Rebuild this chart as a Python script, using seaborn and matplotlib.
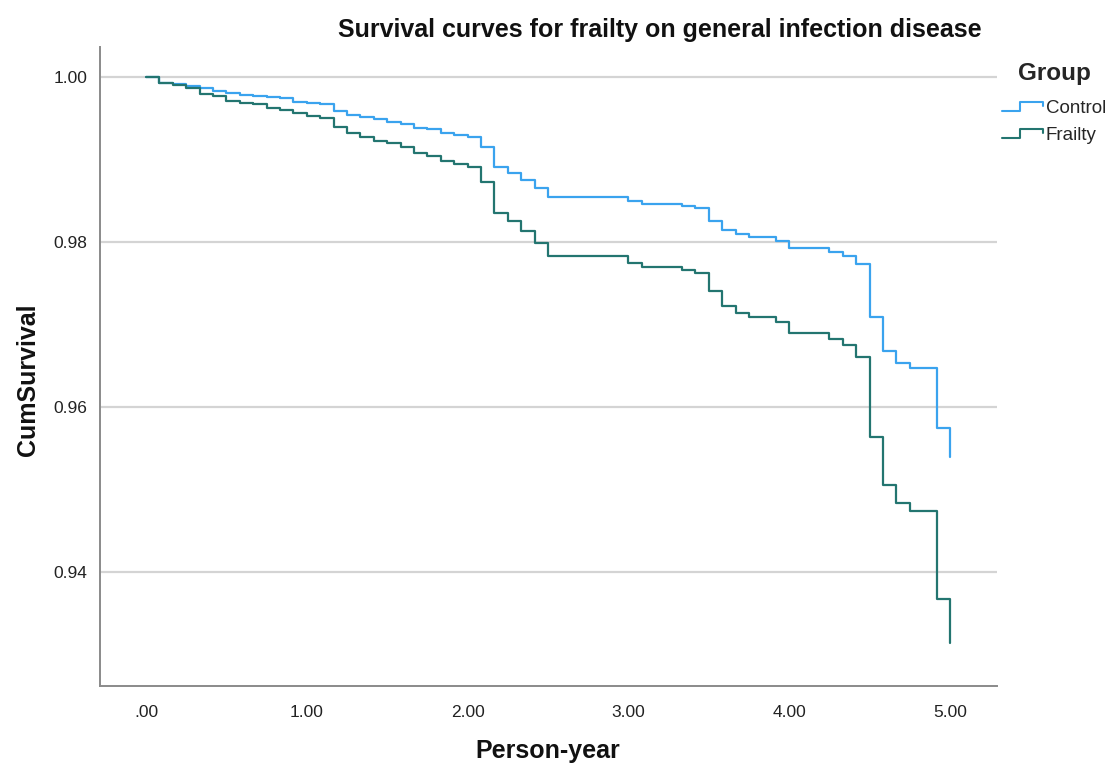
import numpy as np
import pandas as pd
import matplotlib
matplotlib.use("Agg")
import matplotlib.pyplot as plt
import seaborn as sns
from matplotlib.lines import Line2D
from matplotlib.legend_handler import HandlerBase

# ---- data ----
months = list(range(0, 61))  # follow-up month of each step

control_surv = [
    1.00000, 0.99935, 0.99919, 0.99894, 0.99867, 0.99837, 0.99806, 0.99785, 0.99773, 0.99757,
    0.99745, 0.99704, 0.99685, 0.99676, 0.99591, 0.99543, 0.99522, 0.99491, 0.99462, 0.99434,
    0.99381, 0.99369, 0.99328, 0.99300, 0.99280, 0.99149, 0.98912, 0.98843, 0.98754, 0.98654,
    0.98552, 0.98552, 0.98552, 0.98552, 0.98552, 0.98552, 0.98500, 0.98463, 0.98463, 0.98463,
    0.98439, 0.98411, 0.98261, 0.98148, 0.98096, 0.98067, 0.98067, 0.98018, 0.97926, 0.97926,
    0.97926, 0.97885, 0.97833, 0.97732, 0.97087, 0.96680, 0.96535, 0.96474, 0.96474, 0.95750,
    0.95391,
]

frailty_surv = [
    1.00000, 0.99927, 0.99907, 0.99867, 0.99797, 0.99773, 0.99716, 0.99692, 0.99676, 0.99624,
    0.99603, 0.99571, 0.99531, 0.99503, 0.99394, 0.99321, 0.99280, 0.99231, 0.99200, 0.99158,
    0.99078, 0.99045, 0.98988, 0.98948, 0.98916, 0.98734, 0.98358, 0.98261, 0.98136, 0.97987,
    0.97836, 0.97836, 0.97836, 0.97836, 0.97836, 0.97836, 0.97744, 0.97703, 0.97703, 0.97703,
    0.97663, 0.97623, 0.97408, 0.97226, 0.97138, 0.97096, 0.97096, 0.97036, 0.96895, 0.96895,
    0.96895, 0.96822, 0.96753, 0.96602, 0.95641, 0.95055, 0.94833, 0.94743, 0.94743, 0.93672,
    0.93135,
]

groups = ["Control", "Frailty"]
x_ticks = [0, 1, 2, 3, 4, 5]
x_tick_labels = [".00", "1.00", "2.00", "3.00", "4.00", "5.00"]
y_ticks = [0.94, 0.96, 0.98, 1.00]
y_tick_labels = ["0.94", "0.96", "0.98", "1.00"]

colors = {"Control": "#3aa3ee", "Frailty": "#237570"}

# ---- build long table ----
years = np.array(months) / 12.0
df = pd.concat([
    pd.DataFrame({"Person-year": years, "CumSurvival": control_surv, "Group": "Control"}),
    pd.DataFrame({"Person-year": years, "CumSurvival": frailty_surv, "Group": "Frailty"}),
], ignore_index=True)

sns.set_style("white")
plt.rcParams["font.family"] = ["Liberation Sans", "DejaVu Sans"]

fig = plt.figure(figsize=(11.11, 7.67), dpi=100)
ax = fig.add_axes([100 / 1111, 1 - 686 / 767, (996.7 - 100) / 1111, (686 - 46.7) / 767])

sns.lineplot(data=df, x="Person-year", y="CumSurvival", hue="Group",
             hue_order=groups, palette=colors, estimator=None, sort=False,
             drawstyle="steps-post", linewidth=1.6, legend=False, ax=ax, zorder=3)

ax.set_xlim(-0.286, 5.29)
ax.set_ylim(0.92617, 1.0037)
ax.set_xticks(x_ticks)
ax.set_xticklabels(x_tick_labels)
ax.set_yticks(y_ticks)
ax.set_yticklabels(y_tick_labels)
ax.tick_params(axis="both", labelsize=12.5, length=0, colors="#222222")
ax.tick_params(axis="x", pad=14)
ax.tick_params(axis="y", pad=9)

ax.yaxis.grid(True, color="#d4d4d4", linewidth=1.6, zorder=0)
ax.xaxis.grid(False)
for side in ["top", "right"]:
    ax.spines[side].set_visible(False)
for side in ["left", "bottom"]:
    ax.spines[side].set_color("#8a8a8a")
    ax.spines[side].set_linewidth(1.4)

ax.set_xlabel("")
ax.set_ylabel("")
fig.text(548 / 1111, 1 - 751 / 767, "Person-year", ha="center", va="center",
         fontsize=18, fontweight="bold", color="#111111")
fig.text(28 / 1111, 1 - 380 / 767, "CumSurvival", ha="center", va="center",
         rotation=90, fontsize=18, fontweight="bold", color="#111111")

fig.text(660 / 1111, 1 - 30 / 767, "Survival curves for frailty on general infection disease",
         ha="center", va="center", fontsize=18, fontweight="bold", color="#111111")


class StepHandler(HandlerBase):
    def create_artists(self, legend, orig_handle, xdescent, ydescent, width, height,
                       fontsize, trans):
        xs = np.array([0.0, 0.45, 0.45, 1.0, 1.0]) * width - xdescent
        ys = np.array([0.15, 0.15, 0.85, 0.85, 0.55]) * height - ydescent
        ln = Line2D(xs, ys, color=orig_handle.get_color(), linewidth=1.5)
        ln.set_transform(trans)
        return [ln]


handles = [Line2D([], [], color=colors[g]) for g in groups]
leg = fig.legend(handles, groups, loc="upper left",
                 bbox_to_anchor=(985 / 1111, 1 - 45 / 767), frameon=False,
                 fontsize=13.5, title="Group", handlelength=2.2, handletextpad=0.15,
                 labelspacing=0.5, alignment="center",
                 handler_map={Line2D: StepHandler()})
leg.get_title().set_fontsize(17.5)
leg.get_title().set_fontweight("bold")
leg._legend_box.sep = 11

fig.savefig("out.png", dpi=100)
